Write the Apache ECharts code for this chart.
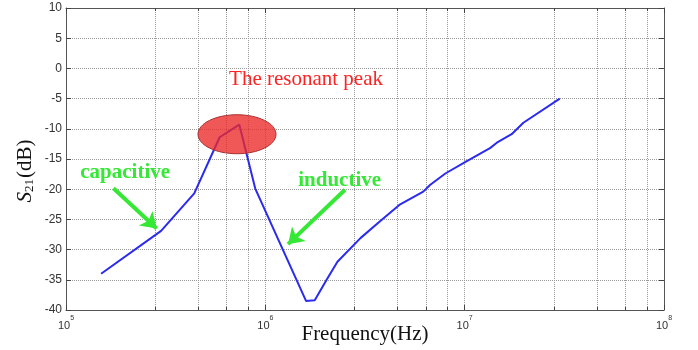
<!DOCTYPE html>
<html>
<head>
<meta charset="utf-8">
<script src="https://cdn.jsdelivr.net/npm/echarts@6/dist/echarts.min.js"></script>
<style>
  html, body { margin: 0; padding: 0; background: #fff; }
  #chart { width: 698px; height: 350px; }
</style>
</head>
<body>
<div id="chart"></div>
<script>
// measured curve (Hz, dB)
var freq = [1.5e5, 3.0e5, 4.4e5, 5.9e5, 7.4e5, 8.9e5, 1.6e6, 1.77e6, 2.03e6, 2.3e6,
            3.0e6, 3.8e6, 4.7e6, 6.2e6, 6.7e6, 8.0e6, 1.02e7, 1.34e7, 1.45e7, 1.72e7,
            1.97e7, 3.0e7];
var s21 = [-34.0, -26.9, -20.7, -11.4, -9.3, -19.9, -38.5, -38.4, -35.0, -32.0,
           -28.1, -25.2, -22.6, -20.4, -19.3, -17.4, -15.4, -13.2, -12.3, -10.9,
           -9.0, -5.0];

// annotations in data coords [Hz, dB]
var capArrow = [[1.73e5, -19.85], [2.85e5, -26.5]];
var indArrow = [[2.51e6, -20.1], [1.30e6, -29.1]];
var capLabel = [1.98e5, -17.2];
var indLabel = [2.36e6, -18.6];
var peakLabel = [1.6e6, -1.8];
var peakMark = [7.21e5, -10.9];

var green = '#35e835';
var chart = echarts.init(document.getElementById('chart'));

function expLabel(v) {
  return '{b|10}{s|' + Math.round(Math.log10(v)) + '}';
}

var gridLine = { show: true, lineStyle: { type: 'dotted', color: '#999', width: 1 } };
var frameLine = { show: true, onZero: false, lineStyle: { color: '#555' } };

chart.setOption({
  animation: false,
  grid: { left: 66, right: 34, top: 8, bottom: 40, outerBoundsMode: 'none' },
  xAxis: [{
    type: 'log',
    logBase: 10,
    min: 1e5,
    max: 1e8,
    position: 'bottom',
    axisLine: frameLine,
    axisTick: { inside: true, length: 5, lineStyle: { color: '#444' } },
    minorTick: { show: true, length: 3, lineStyle: { color: '#444' } },
    splitLine: gridLine,
    minorSplitLine: gridLine,
    axisLabel: {
      margin: 5,
      formatter: expLabel,
      rich: {
        b: { fontFamily: 'Liberation Sans', fontSize: 11, color: '#333', lineHeight: 16, verticalAlign: 'bottom' },
        s: { fontFamily: 'Liberation Sans', fontSize: 7, color: '#333', verticalAlign: 'top' }
      }
    },
    name: 'Frequency(Hz)',
    nameLocation: 'middle',
    nameGap: 14,
    nameMoveOverlap: false,
    nameTextStyle: { fontFamily: 'Liberation Serif', fontSize: 21, color: '#111', verticalAlign: 'top' }
  }, {
    type: 'log',
    logBase: 10,
    min: 1e5,
    max: 1e8,
    position: 'top',
    axisLine: frameLine,
    axisTick: { inside: true, length: 5, lineStyle: { color: '#444' } },
    minorTick: { show: true, length: 3, lineStyle: { color: '#444' } },
    axisLabel: { show: false },
    splitLine: { show: false }
  }],
  yAxis: [{
    type: 'value',
    min: -40,
    max: 10,
    interval: 5,
    position: 'left',
    axisLine: frameLine,
    axisTick: { show: true, inside: true, length: 5, lineStyle: { color: '#444' } },
    splitLine: gridLine,
    axisLabel: { margin: 4, fontFamily: 'Liberation Sans', fontSize: 12, color: '#333' },
    name: '{i|S}{sub|21}{n|(dB)}',
    nameLocation: 'middle',
    nameRotate: 90,
    nameGap: 30,
    nameMoveOverlap: false,
    nameTextStyle: {
      padding: [0, 24, 0, 0],
      rich: {
        i: { fontFamily: 'Liberation Serif', fontStyle: 'italic', fontSize: 21, color: '#111', lineHeight: 26, verticalAlign: 'bottom' },
        sub: { fontFamily: 'Liberation Serif', fontSize: 13, color: '#111', verticalAlign: 'bottom', padding: [0, 1, 0, 0] },
        n: { fontFamily: 'Liberation Serif', fontSize: 21, color: '#111', verticalAlign: 'bottom' }
      }
    }
  }, {
    type: 'value',
    min: -40,
    max: 10,
    interval: 5,
    position: 'right',
    axisLine: frameLine,
    axisTick: { show: true, inside: true, length: 5, lineStyle: { color: '#444' } },
    axisLabel: { show: false },
    splitLine: { show: false }
  }],
  series: [{
    type: 'line',
    xAxisIndex: 0,
    yAxisIndex: 0,
    data: freq.map(function (f, i) { return [f, s21[i]]; }),
    showSymbol: false,
    lineStyle: { color: '#2b2bef', width: 2 },
    markLine: {
      silent: true,
      symbol: ['none', 'arrow'],
      symbolSize: 15,
      label: { show: false },
      lineStyle: { color: green, width: 4, type: 'solid' },
      data: [
        [{ coord: capArrow[0] }, { coord: capArrow[1] }],
        [{ coord: indArrow[0] }, { coord: indArrow[1] }]
      ]
    }
  }]
});

function px(p) { return chart.convertToPixel({ gridIndex: 0 }, p); }

var pm = px(peakMark), cl = px(capLabel), il = px(indLabel), pl = px(peakLabel);
chart.setOption({
  graphic: [{
    type: 'ellipse',
    z: 100,
    shape: { cx: pm[0], cy: pm[1], rx: 39, ry: 19.5 },
    style: { fill: 'rgba(236,40,40,0.78)', stroke: '#a83030', lineWidth: 1 }
  }, {
    type: 'text', z: 101, x: pl[0], y: pl[1],
    style: { text: 'The resonant peak', fill: '#ff2222', font: '21px "Liberation Serif"', align: 'center', verticalAlign: 'middle' }
  }, {
    type: 'text', z: 101, x: cl[0], y: cl[1],
    style: { text: 'capacitive', fill: green, font: 'bold 21px "Liberation Serif"', align: 'center', verticalAlign: 'middle' }
  }, {
    type: 'text', z: 101, x: il[0], y: il[1],
    style: { text: 'inductive', fill: green, font: 'bold 21px "Liberation Serif"', align: 'center', verticalAlign: 'middle' }
  }]
});
</script>
</body>
</html>
